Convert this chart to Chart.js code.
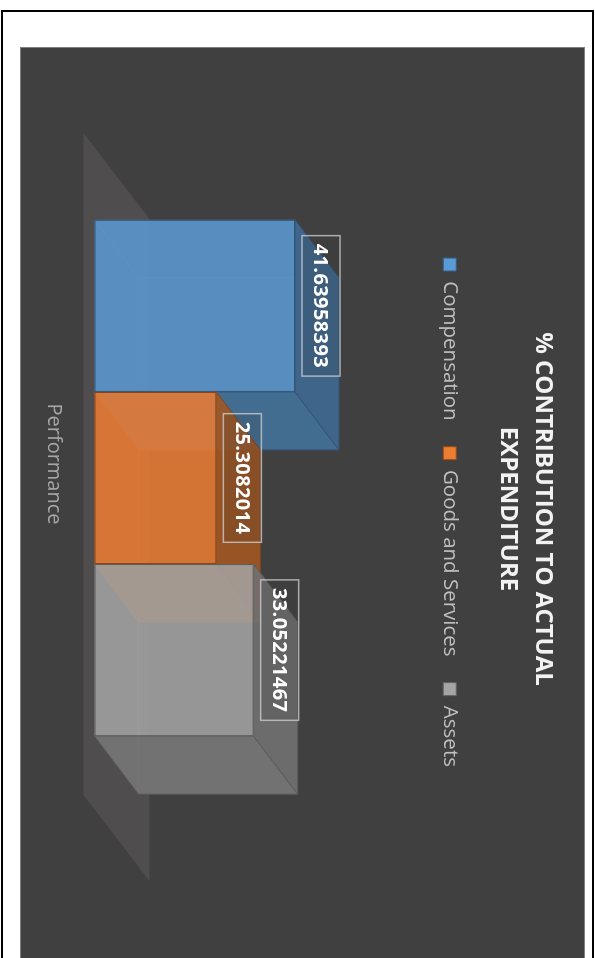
<!DOCTYPE html>
<html>
<head>
<meta charset="utf-8">
<title>% Contribution to Actual Expenditure</title>
<script src="https://cdn.jsdelivr.net/npm/chart.js@4/dist/chart.umd.min.js"></script>
<style>
  html, body { margin: 0; padding: 0; width: 595px; height: 958px; overflow: hidden; background: #ffffff; }
  /* The chart is laid out landscape and turned a quarter turn clockwise onto the portrait page. */
  #stage { position: absolute; left: 0; top: 0; width: 958px; height: 595px;
           transform-origin: 0 0; transform: translateX(595px) rotate(90deg); }
  #frame { position: absolute; left: 10px; top: 1px; width: 1000px; height: 593px;
           box-sizing: border-box; border: 2px solid #000; }
  #panel { position: absolute; left: 47px; top: 10px; width: 960px; height: 565px;
           box-sizing: border-box; background: #404040; border: 1px solid #7f7f7f; }
  #chart { position: absolute; left: 47px; top: 10px; }
</style>
</head>
<body>
<div id="stage">
  <div id="frame"></div>
  <div id="panel"></div>
  <canvas id="chart" width="924" height="594"></canvas>
</div>
<script>
// ---- data ----
const categories = ['Performance'];
const seriesNames = ['Compensation', 'Goods and Services', 'Assets'];
const compensation = [41.63958393];
const goodsAndServices = [25.3082014];
const assets = [33.05221467];
const titleLines = ['% CONTRIBUTION TO ACTUAL', 'EXPENDITURE'];

// ---- style ----
const FONT = "'Open Sans', sans-serif";
const BASE_COLORS = ['#5B9BD5', '#ED7D31', '#A5A5A5'];
const BAR_DEPTH = { x: 58, y: -44 };     // oblique depth of each column
const FLOOR_DEPTH = { x: 86, y: -66 };   // oblique depth of the floor
const LEGEND_INSET = 7;                  // legend sits a touch right of the canvas centre

function shade(hex, f, a) {
  const n = parseInt(hex.slice(1), 16);
  const r = Math.round(((n >> 16) & 255) * f);
  const g = Math.round(((n >> 8) & 255) * f);
  const b = Math.round((n & 255) * f);
  return `rgba(${r},${g},${b},${a})`;
}

// Front and back faces of a column, centred on the bar element's plane.
function barGeometry(el) {
  const p = el.getProps(['x', 'y', 'base', 'width'], true);
  const hx = BAR_DEPTH.x / 2, hy = BAR_DEPTH.y / 2;
  const left = p.x - p.width / 2, right = p.x + p.width / 2;
  const top = Math.min(p.y, p.base), bottom = Math.max(p.y, p.base);
  return {
    fl: left - hx, fr: right - hx, ft: top - hy, fb: bottom - hy,
    bl: left + hx, br: right + hx, bt: top + hy, bb: bottom + hy
  };
}

function poly(ctx, pts) {
  ctx.beginPath();
  ctx.moveTo(pts[0][0], pts[0][1]);
  for (let k = 1; k < pts.length; k++) ctx.lineTo(pts[k][0], pts[k][1]);
  ctx.closePath();
}

function drawColumn(ctx, g, base) {
  const edge = shade(base, 0.55, 1);
  ctx.lineWidth = 1;
  // hidden back edges, seen through the translucent faces
  ctx.strokeStyle = shade(base, 0.75, 0.55);
  ctx.beginPath();
  ctx.moveTo(g.fl, g.fb); ctx.lineTo(g.bl, g.bb);
  ctx.moveTo(g.bl, g.bb); ctx.lineTo(g.bl, g.bt);
  ctx.moveTo(g.bl, g.bb); ctx.lineTo(g.br, g.bb);
  ctx.stroke();
  // right side
  poly(ctx, [[g.fr, g.ft], [g.br, g.bt], [g.br, g.bb], [g.fr, g.fb]]);
  ctx.fillStyle = shade(base, 0.72, 0.9);
  ctx.fill();
  ctx.strokeStyle = edge; ctx.stroke();
  // top
  poly(ctx, [[g.fl, g.ft], [g.bl, g.bt], [g.br, g.bt], [g.fr, g.ft]]);
  ctx.fillStyle = shade(base, 0.68, 0.9);
  ctx.fill();
  ctx.strokeStyle = edge; ctx.stroke();
  // front
  ctx.fillStyle = shade(base, 1, 0.85);
  ctx.fillRect(g.fl, g.ft, g.fr - g.fl, g.fb - g.ft);
  ctx.strokeStyle = edge;
  ctx.strokeRect(g.fl + 0.5, g.ft + 0.5, g.fr - g.fl - 1, g.fb - g.ft - 1);
}

const columns3d = {
  id: 'columns3d',
  afterLayout(chart) {
    // title and legend are centred over the whole canvas, not just the floor plane
    const { titleBlock, legend, width } = chart;
    if (titleBlock) { titleBlock.left = 0; titleBlock.right = width; }
    if (legend) { legend.left = LEGEND_INSET; legend.right = width; }
  },
  beforeDatasetsDraw(chart) {
    const { ctx, chartArea: ca, scales } = chart;
    const zero = scales.y.getPixelForValue(0);
    const hx = FLOOR_DEPTH.x / 2, hy = FLOOR_DEPTH.y / 2;
    ctx.save();
    // floor
    poly(ctx, [[ca.left - hx, zero - hy], [ca.right - hx, zero - hy],
               [ca.right + hx, zero + hy], [ca.left + hx, zero + hy]]);
    ctx.fillStyle = '#4f4d4d';
    ctx.fill();
    // columns, left to right so each front face covers its neighbour's side
    chart.data.datasets.forEach((ds, i) => {
      const meta = chart.getDatasetMeta(i);
      if (meta.hidden) return;
      meta.data.forEach((el) => drawColumn(ctx, barGeometry(el), BASE_COLORS[i]));
    });
    ctx.restore();
    return false;
  },
  afterDraw(chart) {
    const { ctx } = chart;
    ctx.save();
    ctx.font = `bold 20px ${FONT}`;
    if ('letterSpacing' in ctx) ctx.letterSpacing = '0.4px';
    ctx.textAlign = 'center';
    ctx.textBaseline = 'middle';
    chart.data.datasets.forEach((ds, i) => {
      const meta = chart.getDatasetMeta(i);
      if (meta.hidden) return;
      meta.data.forEach((el, j) => {
        const g = barGeometry(el);
        const text = String(ds.data[j]);
        const w = ctx.measureText(text).width + 16;
        const h = 38;
        const cx = (g.fl + g.fr) / 2;
        const y1 = g.ft - 7 - h;
        ctx.fillStyle = 'rgba(45,45,45,0.15)';
        ctx.fillRect(cx - w / 2, y1, w, h);
        ctx.strokeStyle = 'rgba(210,210,210,0.75)';
        ctx.lineWidth = 1.5;
        ctx.strokeRect(cx - w / 2, y1, w, h);
        ctx.fillStyle = '#ffffff';
        ctx.fillText(text, cx, y1 + h / 2 + 1);
      });
    });
    ctx.restore();
  }
};

const seriesValues = [compensation, goodsAndServices, assets];

new Chart(document.getElementById('chart'), {
  type: 'bar',
  data: {
    labels: categories,
    datasets: seriesNames.map((name, i) => ({
      label: name,
      data: seriesValues[i],
      backgroundColor: shade(BASE_COLORS[i], 1, 1),
      borderColor: shade(BASE_COLORS[i], 0.6, 1),
      borderWidth: 1
    }))
  },
  options: {
    responsive: false,
    devicePixelRatio: 1,
    animation: false,
    events: [],
    categoryPercentage: 0.78,
    barPercentage: 1,
    layout: { padding: { top: 0, left: 129, right: 133, bottom: 0.5 } },
    plugins: {
      title: {
        display: true,
        text: titleLines,
        color: '#f2f2f2',
        font: { family: FONT, size: 24, weight: 'bold', lineHeight: '35px' },
        padding: { top: 24.5, bottom: 4.5 }
      },
      legend: {
        display: true,
        position: 'top',
        labels: {
          boxWidth: 13, boxHeight: 13, padding: 26,
          color: '#bfbfbf',
          font: { family: FONT, size: 20.5 }
        }
      },
      tooltip: { enabled: false }
    },
    scales: {
      x: {
        grid: { display: false, drawTicks: false },
        border: { display: false },
        ticks: {
          color: '#a6a6a6',
          font: { family: FONT, size: 20 },
          padding: 50.5,
          maxRotation: 0,
          labelOffset: -FLOOR_DEPTH.x / 2
        }
      },
      y: { display: false, min: 0, max: 65 }
    }
  },
  plugins: [columns3d]
});
</script>
</body>
</html>
